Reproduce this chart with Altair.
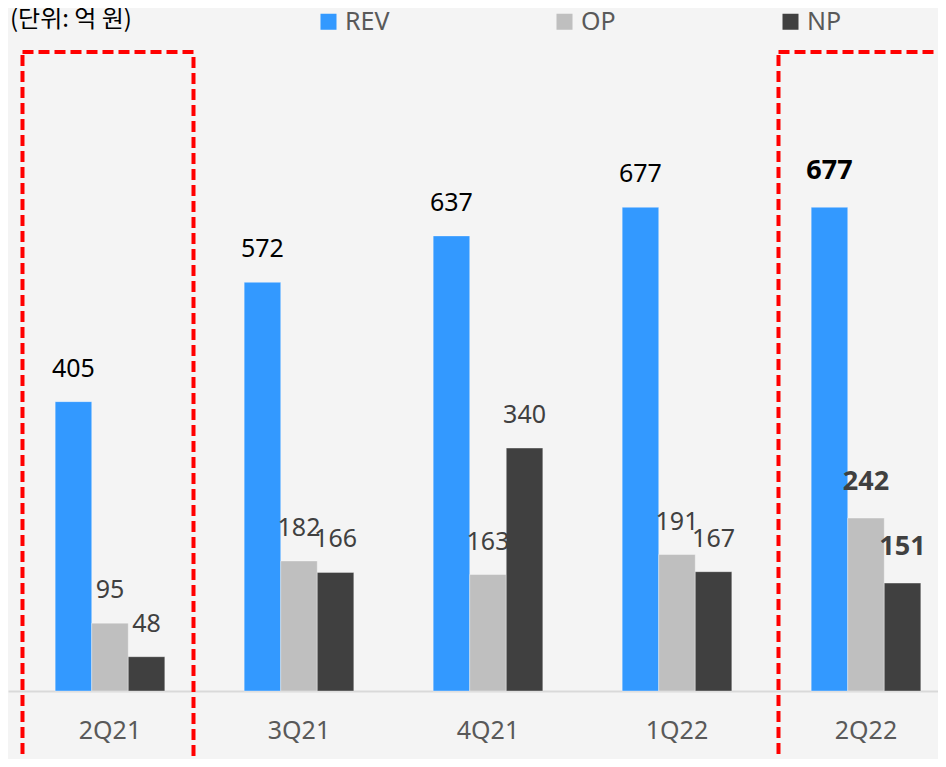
import altair as alt
import pandas as pd

quarters = ["2Q21", "3Q21", "4Q21", "1Q22", "2Q22"]
series = ["REV", "OP", "NP"]
rev = [405, 572, 637, 677, 677]
op = [95, 182, 163, 191, 242]
np_ = [48, 166, 340, 167, 151]
highlight = ["2Q21", "2Q22"]
bold_quarter = "2Q22"
unit_text = ["(단위: 억 원)"]

colors = ["#3399ff", "#bfbfbf", "#404040"]
label_colors = ["#000000", "#404040", "#404040"]

rows = []
for i, q in enumerate(quarters):
    for s, vals, lc in zip(series, [rev, op, np_], label_colors):
        rows.append({"quarter": q, "series": s, "value": vals[i], "lc": lc})
df = pd.DataFrame(rows)
hl = pd.DataFrame({"quarter": highlight})
unit_df = pd.DataFrame({"t": unit_text})

FONT = "Noto Sans"
W, H = 930, 643

xscale = alt.Scale(domain=quarters, paddingInner=0.42, paddingOuter=0.1703, align=0.733, round=False)
yscale = alt.Scale(domain=[0, 900], nice=False)

x_axis = alt.X("quarter:N", scale=xscale, sort=quarters, title=None,
               axis=alt.Axis(labelAngle=0, labelFontSize=25, labelColor="#595959", labelFont=FONT,
                             domainColor="#d9d9d9", domainWidth=2, ticks=False, labelPadding=27,
                             grid=False))
x_noaxis = alt.X("quarter:N", scale=xscale, sort=quarters, title=None)
xo = alt.XOffset("series:N", sort=series, scale=alt.Scale(domain=series, paddingInner=0, paddingOuter=0))
y = alt.Y("value:Q", scale=yscale, axis=None)

bars = alt.Chart(df).mark_bar(stroke="#ffffff", strokeOpacity=0.35, strokeWidth=1).encode(
    x=x_axis, xOffset=xo, y=y,
    color=alt.Color("series:N", sort=series,
                    scale=alt.Scale(domain=series, range=colors),
                    legend=alt.Legend(title=None, orient="none", direction="horizontal",
                                      legendX=308, legendY=-39, columns=3, columnPadding=162,
                                      symbolType="square", symbolSize=256, symbolStrokeWidth=0,
                                      labelFontSize=25, labelColor="#595959", labelFont=FONT,
                                      labelOffset=4, padding=0)),
)

labels_normal = alt.Chart(df).transform_filter(
    alt.datum.quarter != bold_quarter
).mark_text(fontSize=25, font=FONT, baseline="middle", dy=-33).encode(
    x=x_noaxis, xOffset=xo, y=y, text="value:Q",
    color=alt.Color("lc:N", scale=None),
)
labels_bold = alt.Chart(df).transform_filter(
    alt.datum.quarter == bold_quarter
).mark_text(fontSize=27, font=FONT, fontWeight="bold", baseline="middle", dy=-36).encode(
    x=x_noaxis, xOffset=xo, y=y, text="value:Q",
    color=alt.Color("lc:N", scale=None),
)

boxes = alt.Chart(hl).mark_bar(fill=None, stroke="#ff0000", strokeWidth=4, strokeDash=[11, 5],
                               width=alt.RelativeBandSize(1.56), xOffset=-2).encode(
    x=x_noaxis,
    y=alt.value(4), y2=alt.value(760),
)

unit = alt.Chart(unit_df).mark_text(align="left", baseline="middle", fontSize=24,
                                     font="Noto Sans CJK KR", color="#000000").encode(
    text="t:N", x=alt.value(2), y=alt.value(-28),
)

chart = alt.layer(bars, labels_normal, labels_bold, boxes, unit).resolve_scale(
    color="independent"
).properties(
    width=W, height=H,
    autosize=alt.AutoSizeParams(type="none"),
    padding={"left": 0, "top": 40, "right": 0, "bottom": 68},
    background="#f4f4f4",
).configure_view(stroke=None)

chart.save("out.html", embed_options={"renderer": "svg", "actions": False})
